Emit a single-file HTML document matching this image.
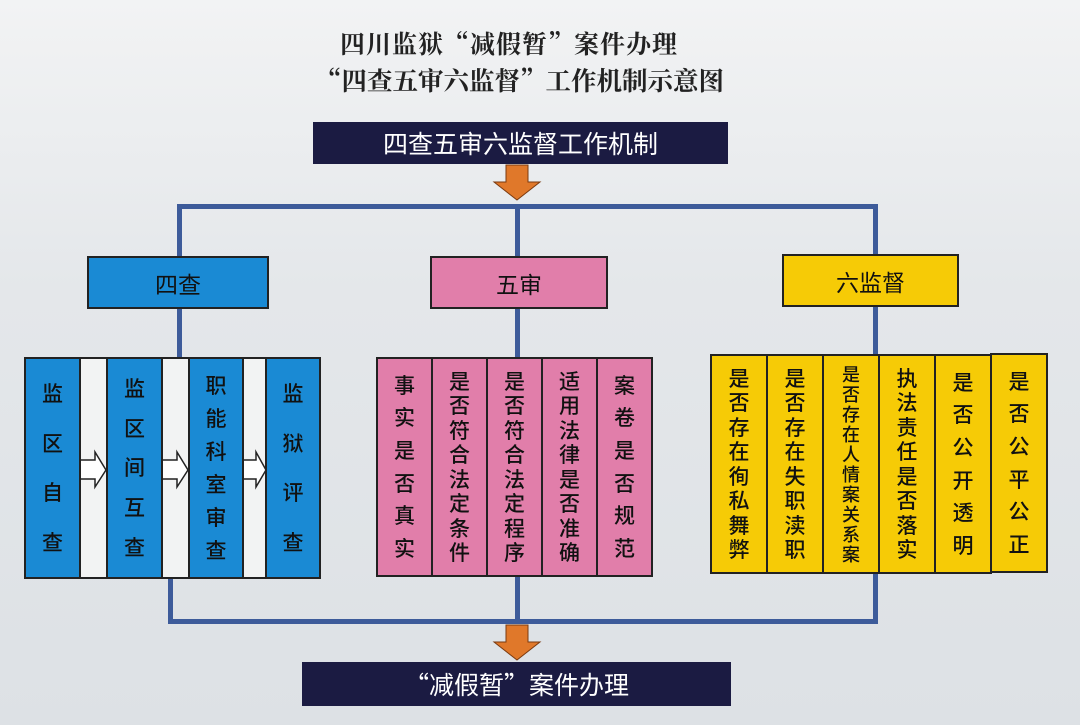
<!DOCTYPE html>
<html><head><meta charset="utf-8"><style>
body{margin:0;width:1080px;height:725px;overflow:hidden;background:linear-gradient(#f2f3f4,#e4e7ea 40%,#dde1e5);font-family:"Noto Serif CJK SC",serif;position:relative}
.a{position:absolute}
.t{position:absolute;font-weight:bold;color:#222;font-size:26px;white-space:nowrap;font-family:"Noto Serif CJK SC",serif;line-height:1}
.ln{position:absolute;background:#3d5b9a}
.box{position:absolute;display:flex;align-items:center;justify-content:center;font-family:"Noto Sans CJK SC",sans-serif;font-size:23px;color:#111;border:2px solid #222;box-sizing:border-box}
.col{position:absolute;box-sizing:border-box;border:2px solid #222;font-family:"Noto Sans CJK SC",sans-serif;font-size:21px;font-weight:500;color:#111;display:flex;flex-direction:column;align-items:center;justify-content:space-around;padding:10px 0}
.col span{line-height:1}
.bl{background:#1a8ad4}.pk{background:#e17eaa}.yl{background:#f6cb06}
</style></head><body>
<div class="t" style="left:340px;top:31px;letter-spacing:1px;font-size:25px">四川监狱“减假暂”案件办理</div>
<div class="t" style="left:316px;top:68px;font-size:25.5px;letter-spacing:0">“四查五审六监督”工作机制示意图</div>
<div class="box" style="left:313px;top:122px;width:415px;height:42px;background:#1b1b42;color:#fff;font-size:25px;border:none">四查五审六监督工作机制</div>
<svg class="a" style="left:0;top:0" width="1080" height="725">
<polygon points="506,165 528,165 528,182 540,182 517,200 494,182 506,182" fill="#e0782a" stroke="#7a3a10"/>
<polygon points="506,625 528,625 528,642 540,642 517,660 494,642 506,642" fill="#e0782a" stroke="#7a3a10"/>
</svg>
<div class="ln" style="left:177px;top:204px;width:700px;height:5px"></div>
<div class="ln" style="left:177px;top:204px;width:5px;height:54px"></div>
<div class="ln" style="left:515px;top:204px;width:5px;height:54px"></div>
<div class="ln" style="left:873px;top:204px;width:5px;height:52px"></div>
<div class="ln" style="left:177px;top:306px;width:5px;height:52px"></div>
<div class="ln" style="left:515px;top:306px;width:5px;height:52px"></div>
<div class="ln" style="left:873px;top:306px;width:5px;height:48px"></div>
<div class="ln" style="left:168px;top:576px;width:5px;height:48px"></div>
<div class="ln" style="left:515px;top:574px;width:5px;height:50px"></div>
<div class="ln" style="left:873px;top:570px;width:5px;height:54px"></div>
<div class="ln" style="left:168px;top:619px;width:710px;height:5px"></div>
<div class="box bl" style="left:87px;top:256px;width:182px;height:53px">四查</div>
<div class="box pk" style="left:430px;top:256px;width:178px;height:53px">五审</div>
<div class="box yl" style="left:782px;top:254px;width:177px;height:53px">六监督</div>
<div class="a" style="left:24px;top:357px;width:297px;height:222px;background:#f2f3f3;border:2px solid #222;box-sizing:border-box"></div>
<svg class="a" style="left:0;top:0" width="1080" height="725">
<g fill="#fff" stroke="#222" stroke-width="1.5">
<polygon points="80,460 95,460 95,452 106,470 95,487 95,479 80,479"/>
<polygon points="162,460 177,460 177,452 188,470 177,487 177,479 162,479"/>
<polygon points="242,460 256,460 256,452 266,470 256,487 256,479 242,479"/>
</g></svg>
<div class="col bl" style="left:24px;top:357px;width:57px;height:222px"><span>监</span><span>区</span><span>自</span><span>查</span></div>
<div class="col bl" style="left:106px;top:357px;width:57px;height:222px"><span>监</span><span>区</span><span>间</span><span>互</span><span>查</span></div>
<div class="col bl" style="left:188px;top:357px;width:56px;height:222px"><span>职</span><span>能</span><span>科</span><span>室</span><span>审</span><span>查</span></div>
<div class="col bl" style="left:265px;top:357px;width:56px;height:222px"><span>监</span><span>狱</span><span>评</span><span>查</span></div>
<div class="col pk" style="left:376px;top:357px;width:57px;height:220px"><span>事</span><span>实</span><span>是</span><span>否</span><span>真</span><span>实</span></div>
<div class="col pk" style="left:431px;top:357px;width:57px;height:220px"><span>是</span><span>否</span><span>符</span><span>合</span><span>法</span><span>定</span><span>条</span><span>件</span></div>
<div class="col pk" style="left:486px;top:357px;width:57px;height:220px"><span>是</span><span>否</span><span>符</span><span>合</span><span>法</span><span>定</span><span>程</span><span>序</span></div>
<div class="col pk" style="left:541px;top:357px;width:57px;height:220px"><span>适</span><span>用</span><span>法</span><span>律</span><span>是</span><span>否</span><span>准</span><span>确</span></div>
<div class="col pk" style="left:596px;top:357px;width:57px;height:220px"><span>案</span><span>卷</span><span>是</span><span>否</span><span>规</span><span>范</span></div>
<div class="col yl" style="left:710px;top:354px;width:58px;height:220px"><span>是</span><span>否</span><span>存</span><span>在</span><span>徇</span><span>私</span><span>舞</span><span>弊</span></div>
<div class="col yl" style="left:766px;top:354px;width:58px;height:220px"><span>是</span><span>否</span><span>存</span><span>在</span><span>失</span><span>职</span><span>渎</span><span>职</span></div>
<div class="col yl" style="left:822px;top:354px;width:58px;height:220px;font-size:18px;padding:8px 0"><span>是</span><span>否</span><span>存</span><span>在</span><span>人</span><span>情</span><span>案</span><span>关</span><span>系</span><span>案</span></div>
<div class="col yl" style="left:878px;top:354px;width:58px;height:220px"><span>执</span><span>法</span><span>责</span><span>任</span><span>是</span><span>否</span><span>落</span><span>实</span></div>
<div class="col yl" style="left:934px;top:354px;width:58px;height:220px"><span>是</span><span>否</span><span>公</span><span>开</span><span>透</span><span>明</span></div>
<div class="col yl" style="left:990px;top:353px;width:58px;height:220px"><span>是</span><span>否</span><span>公</span><span>平</span><span>公</span><span>正</span></div>
<div class="box" style="left:302px;top:662px;width:429px;height:44px;background:#1b1b42;color:#fff;font-size:25px;border:none">“减假暂”案件办理</div>
</body></html>
